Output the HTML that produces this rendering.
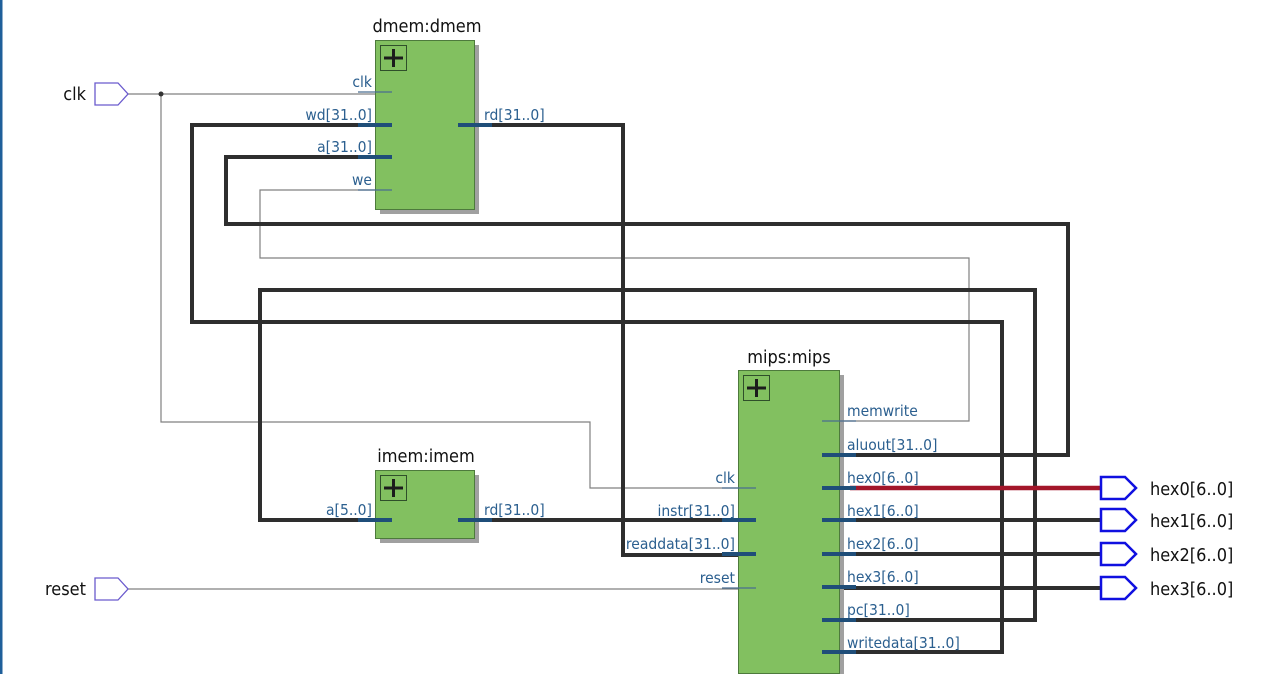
<!DOCTYPE html>
<html><head><meta charset="utf-8"><style>
html,body{margin:0;padding:0;background:#fff;width:1262px;height:674px;overflow:hidden}
svg{display:block}
text{font-family:"DejaVu Sans Condensed","Liberation Sans Narrow","Liberation Sans",sans-serif}
.pl{font-size:15.5px;fill:#2b5f8f}
.tt{font-size:18px;fill:#111}
.bus{stroke:#2e2e2e;stroke-width:4;fill:none}
.thin{stroke:#808080;stroke-width:1.2;fill:none}
.stub{stroke:#1f4e79;stroke-width:4}
.tstub{stroke:#4a6e90;stroke-width:1.2}
</style></head><body>
<svg width="1262" height="674" viewBox="0 0 1262 674" xmlns="http://www.w3.org/2000/svg">
<rect x="0" y="0" width="2.5" height="674" fill="#1f5f9a"/>

<polyline class="thin" points="128,94 376,94"/>
<polyline class="thin" points="161,94 161,422 590,422 590,488 740,488"/>
<polyline class="thin" points="376,190 260,190 260,258 969,258 969,421 840,421"/>
<polyline class="thin" points="128,589 740,589"/>
<circle cx="161" cy="94" r="2.5" fill="#333"/>

<polyline class="bus" points="376,125 192,125 192,322 1002,322 1002,652 840,652"/>
<polyline class="bus" points="376,157 226,157 226,224 1068,224 1068,455 840,455"/>
<polyline class="bus" points="474,125 623,125 623,555 740,555"/>
<polyline class="bus" points="840,620 1035,620 1035,290 260,290 260,520 376,520"/>
<polyline class="bus" points="474,520 740,520"/>
<polyline class="bus" points="840,520 1100,520"/>
<polyline class="bus" points="840,554 1100,554"/>
<polyline class="bus" points="840,588 1100,588"/>
<line x1="850" y1="488" x2="1100" y2="488" stroke="#a3162a" stroke-width="4.5"/>

<polygon points="95,83 118,83 128,94 118,105 95,105" fill="#fff" stroke="#6a5acd" stroke-width="1.3"/>
<text x="86" y="100" class="tt" text-anchor="end">clk</text>
<polygon points="95,578 118,578 128,589 118,600 95,600" fill="#fff" stroke="#6a5acd" stroke-width="1.3"/>
<text x="86" y="595" class="tt" text-anchor="end">reset</text>

<g fill="#fff" stroke="#1010e0" stroke-width="2.5">
<polygon points="1101,477 1125,477 1136,488 1125,499 1101,499"/>
<polygon points="1101,509 1125,509 1136,520 1125,531 1101,531"/>
<polygon points="1101,543 1125,543 1136,554 1125,565 1101,565"/>
<polygon points="1101,577 1125,577 1136,588 1125,599 1101,599"/>
</g>
<g class="tt">
<text x="1150" y="495">hex0[6..0]</text>
<text x="1150" y="527">hex1[6..0]</text>
<text x="1150" y="561">hex2[6..0]</text>
<text x="1150" y="595">hex3[6..0]</text>
</g>

<rect x="380" y="45" width="99" height="169" fill="#a0a0a0"/>
<rect x="375.5" y="40.5" width="99" height="169" fill="#82c060" stroke="#4d7a3c"/>
<rect x="380.5" y="45.5" width="26" height="25" fill="none" stroke="#2f4f2a"/>
<path d="M393.5 49v18M384 58h19" stroke="#1c1c1c" stroke-width="3"/>
<text x="427" y="32" class="tt" text-anchor="middle">dmem:dmem</text>
<line class="tstub" x1="358" y1="92" x2="392" y2="92"/>
<line class="stub" x1="358" y1="125" x2="392" y2="125"/>
<line class="stub" x1="358" y1="157" x2="392" y2="157"/>
<line class="tstub" x1="358" y1="190" x2="392" y2="190"/>
<line class="stub" x1="458" y1="125" x2="492" y2="125"/>
<g class="pl" text-anchor="end">
<text x="372" y="87">clk</text>
<text x="372" y="120">wd[31..0]</text>
<text x="372" y="152">a[31..0]</text>
<text x="372" y="185">we</text>
</g>
<text x="484" y="120" class="pl">rd[31..0]</text>

<rect x="380" y="475" width="99" height="68" fill="#a0a0a0"/>
<rect x="375.5" y="470.5" width="99" height="68" fill="#82c060" stroke="#4d7a3c"/>
<rect x="380.5" y="475.5" width="26" height="25" fill="none" stroke="#2f4f2a"/>
<path d="M393.5 479v18M384 488h19" stroke="#1c1c1c" stroke-width="3"/>
<text x="426" y="462" class="tt" text-anchor="middle">imem:imem</text>
<line class="stub" x1="358" y1="520" x2="392" y2="520"/>
<line class="stub" x1="458" y1="520" x2="492" y2="520"/>
<text x="372" y="515" class="pl" text-anchor="end">a[5..0]</text>
<text x="484" y="515" class="pl">rd[31..0]</text>

<rect x="743" y="375" width="101" height="303" fill="#a0a0a0"/>
<rect x="738.5" y="370.5" width="101" height="303" fill="#82c060" stroke="#4d7a3c"/>
<rect x="743.5" y="375.5" width="26" height="25" fill="none" stroke="#2f4f2a"/>
<path d="M756.5 379v18M747 388h19" stroke="#1c1c1c" stroke-width="3"/>
<text x="789" y="363" class="tt" text-anchor="middle">mips:mips</text>
<line class="tstub" x1="722" y1="488" x2="756" y2="488"/>
<line class="stub" x1="722" y1="520" x2="756" y2="520"/>
<line class="stub" x1="722" y1="554" x2="756" y2="554"/>
<line class="tstub" x1="722" y1="588" x2="756" y2="588"/>
<g class="pl" text-anchor="end">
<text x="735" y="483">clk</text>
<text x="735" y="516">instr[31..0]</text>
<text x="735" y="549">readdata[31..0]</text>
<text x="735" y="583">reset</text>
</g>
<line class="tstub" x1="822" y1="421" x2="856" y2="421"/>
<line class="stub" x1="822" y1="455" x2="856" y2="455"/>
<line class="stub" x1="822" y1="488" x2="856" y2="488"/>
<line class="stub" x1="822" y1="520" x2="856" y2="520"/>
<line class="stub" x1="822" y1="554" x2="856" y2="554"/>
<line class="stub" x1="822" y1="587" x2="856" y2="587"/>
<line class="stub" x1="822" y1="620" x2="856" y2="620"/>
<line class="stub" x1="822" y1="652" x2="856" y2="652"/>
<g class="pl">
<text x="847" y="416">memwrite</text>
<text x="847" y="450">aluout[31..0]</text>
<text x="847" y="483">hex0[6..0]</text>
<text x="847" y="516">hex1[6..0]</text>
<text x="847" y="549">hex2[6..0]</text>
<text x="847" y="582">hex3[6..0]</text>
<text x="847" y="615">pc[31..0]</text>
<text x="847" y="648">writedata[31..0]</text>
</g>
</svg>
</body></html>
